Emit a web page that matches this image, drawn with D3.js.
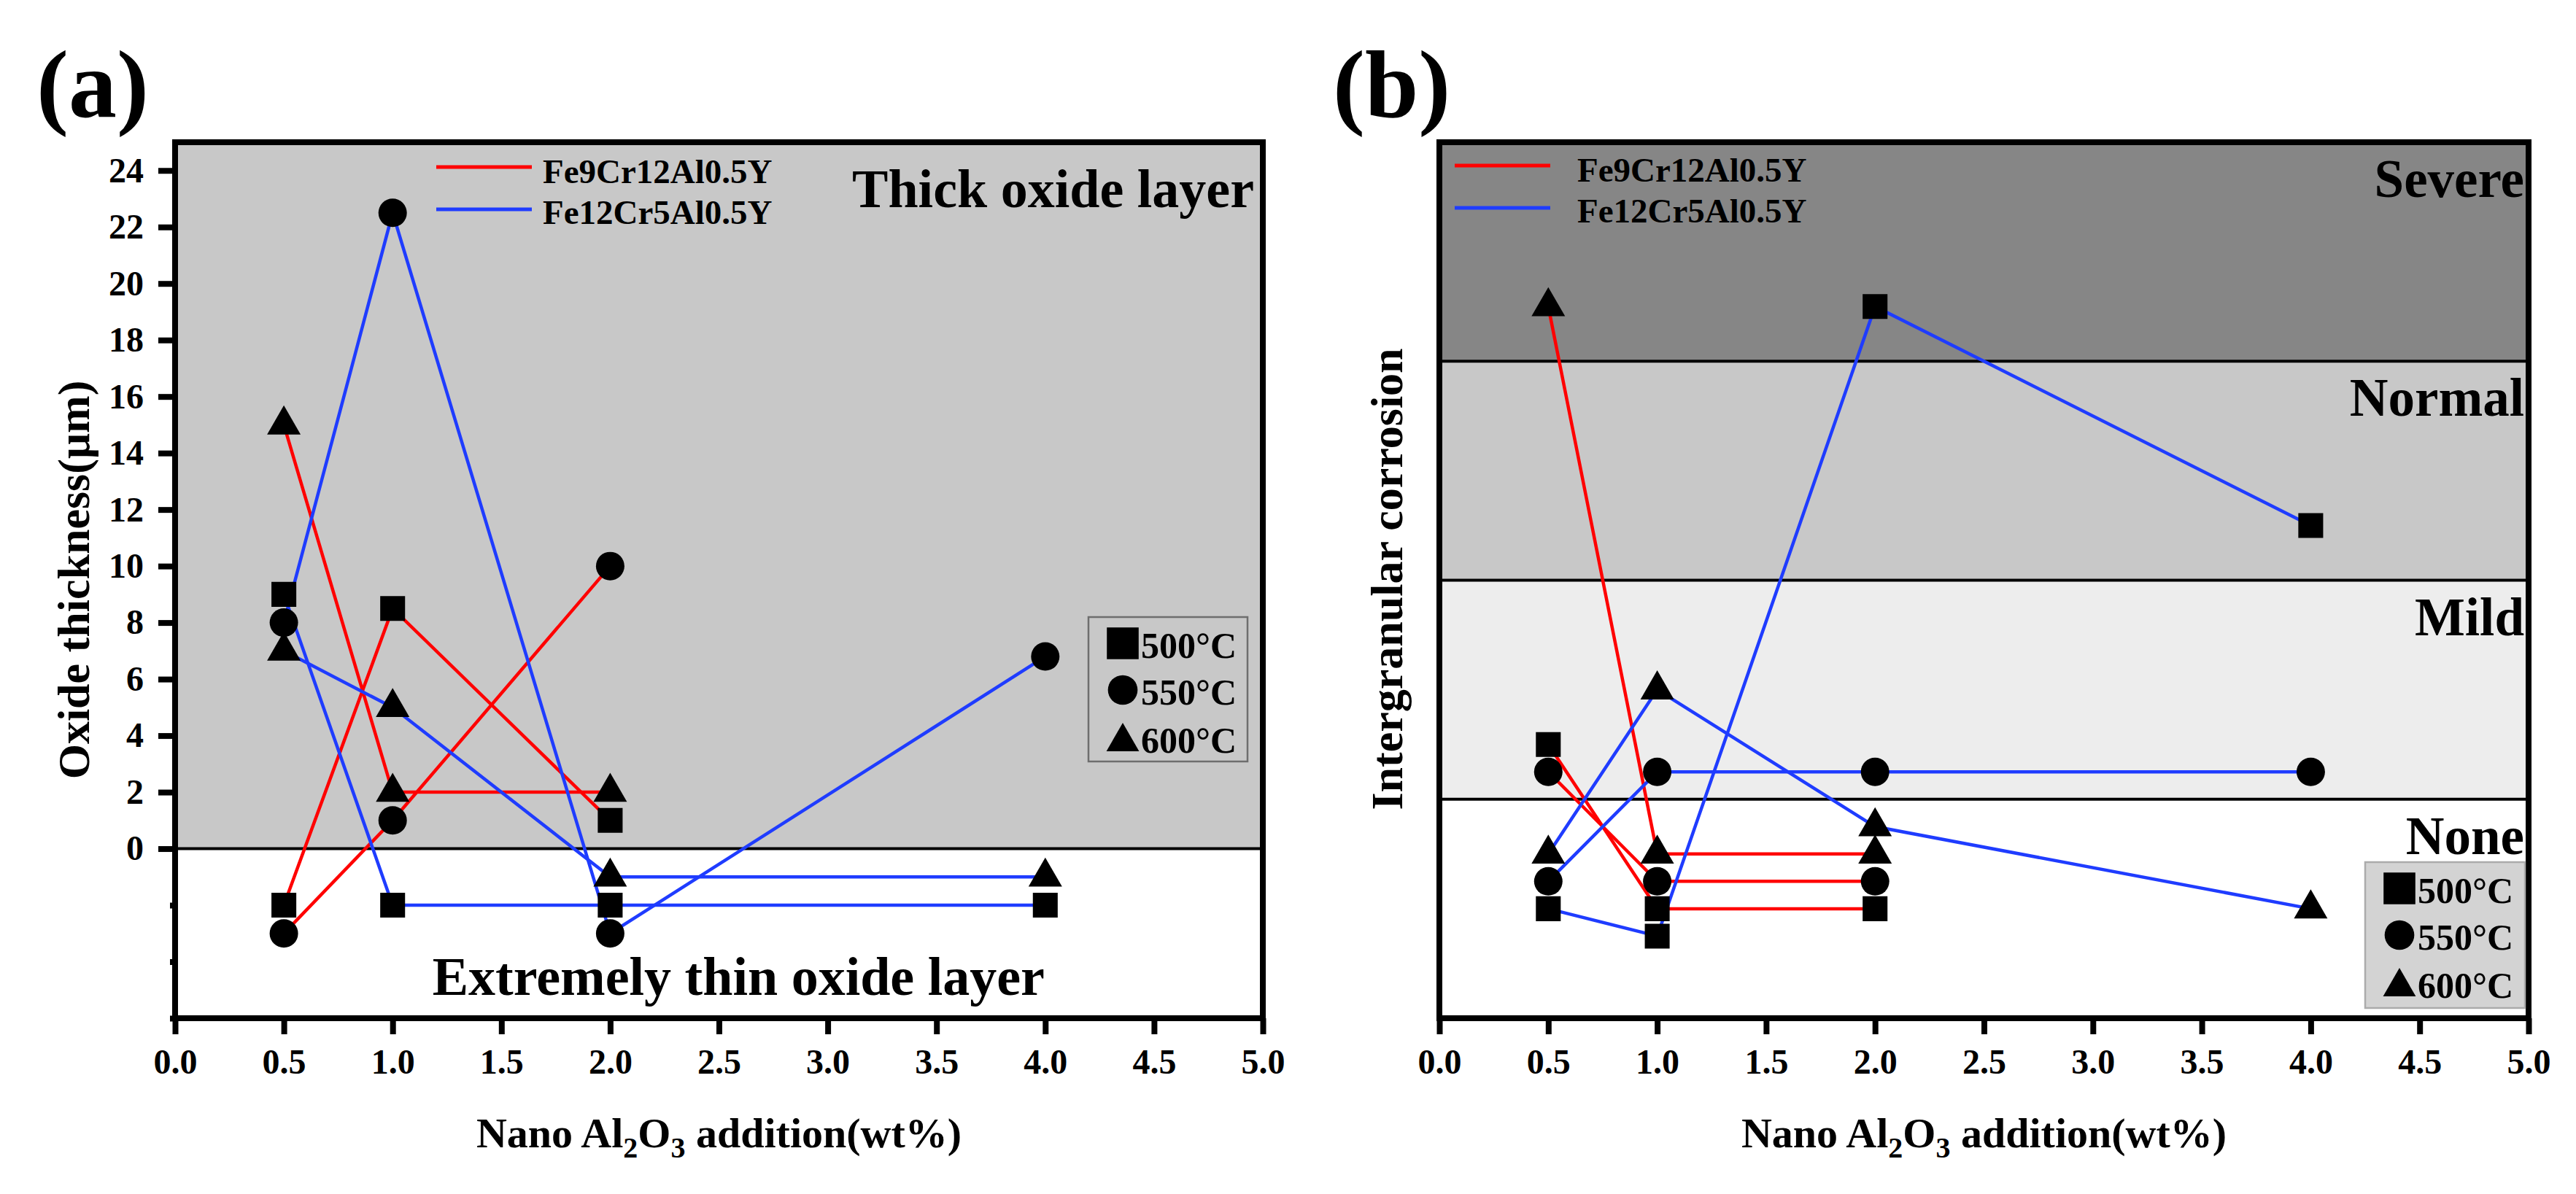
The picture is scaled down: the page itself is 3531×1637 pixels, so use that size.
<!DOCTYPE html>
<html lang="en">
    <head>
        <meta charset="UTF-8" />
        <title>Oxide thickness and intergranular corrosion</title>
        <style>
            body { margin: 0; background: #fff; }
        </style>
    </head>
    <body>
        <div id="main"></div>
        <script src="https://cdn.jsdelivr.net/npm/d3@7"></script>
        <script>
            const svgWidth = 3531
            const svgHeight = 1637
            const fontFamily = "Liberation Serif, Times New Roman, serif"
            const red = "#ff0000"
            const blue = "#1f3cff"

            // data
            const xTicks = [0, 0.5, 1, 1.5, 2, 2.5, 3, 3.5, 4, 4.5, 5]
            const yTicksA = [0, 2, 4, 6, 8, 10, 12, 14, 16, 18, 20, 22, 24]
            const yMinorA = [-2, -4, -6]
            const alloys = ["Fe9Cr12Al0.5Y", "Fe12Cr5Al0.5Y"]
            const temps = ["500°C", "550°C", "600°C"]
            const additionRed = [0.5, 1.0, 2.0]
            const additionBlue = [0.5, 1.0, 2.0, 4.0]

            // (a) oxide thickness, um
            const oxideRed500 = [-2, 8.5, 1]
            const oxideRed550 = [-3, 1, 10]
            const oxideRed600 = [15, 2, 2]
            const oxideBlue500 = [9, -2, -2, -2]
            const oxideBlue550 = [8, 22.5, -3, 6.8]
            const oxideBlue600 = [7, 5, -1, -1]

            // (b) intergranular corrosion level (0-32, four bands of 8)
            const bandNames = ["None", "Mild", "Normal", "Severe"]
            const bandEdges = [0, 8, 16, 24, 32]
            const bandColors = ["#ffffff", "#ededed", "#c8c8c8", "#868686"]
            const igcRed500 = [10, 4, 4]
            const igcRed550 = [9, 5, 5]
            const igcRed600 = [26, 6, 6]
            const igcBlue500 = [4, 3, 26, 18]
            const igcBlue550 = [5, 9, 9, 9]
            const igcBlue600 = [6, 12, 7, 4]

            const frameTop = 195
            const frameBottom = 1396
            const frameA = { left: 240, right: 1731 }
            const frameB = { left: 1973, right: 3466 }

            const symbols = [d3.symbolSquare, d3.symbolCircle, d3.symbolTriangle]
            const symbolSizes = [1160, 1195, 916]

            main()

            function main() {
                const svg = d3
                    .select("#main")
                    .append("svg")
                    .attr("width", svgWidth)
                    .attr("height", svgHeight)
                    .attr("font-family", fontFamily)
                    .attr("font-weight", "bold")

                drawPanelA(svg)
                drawPanelB(svg)
            }

            function drawPanelA(svg) {
                const x = d3.scaleLinear([0, 5], [frameA.left, frameA.right])
                const y = d3.scaleLinear([-6, 25], [frameBottom, frameTop])
                const g = svg.append("g")

                g.append("rect")
                    .attr("x", x(0))
                    .attr("y", y(25))
                    .attr("width", x(5) - x(0))
                    .attr("height", y(0) - y(25))
                    .attr("fill", "#c8c8c8")
                g.append("line")
                    .attr("x1", x(0))
                    .attr("x2", x(5))
                    .attr("y1", y(0))
                    .attr("y2", y(0))
                    .attr("stroke", "black")
                    .attr("stroke-width", 4)

                g.append("text")
                    .attr("x", x(5) - 12)
                    .attr("y", 284)
                    .attr("text-anchor", "end")
                    .attr("font-size", 74)
                    .text("Thick oxide layer")
                g.append("text")
                    .attr("x", x(2.59))
                    .attr("y", 1364)
                    .attr("text-anchor", "middle")
                    .attr("font-size", 74)
                    .text("Extremely thin oxide layer")

                const series = [
                    [additionRed, [oxideRed500, oxideRed550, oxideRed600], red],
                    [additionBlue, [oxideBlue500, oxideBlue550, oxideBlue600], blue],
                ]
                drawSeries(g, x, y, series)

                drawFrame(g, x, y, [-6, 25])
                drawXAxis(g, x, y(-6))

                const yAxis = d3
                    .axisLeft(y)
                    .tickValues(yTicksA)
                    .tickSize(23)
                    .tickPadding(20)
                g.append("g")
                    .attr("transform", `translate(${x(0)}, 0)`)
                    .call(yAxis)
                    .call(styleAxis)
                const yMinor = d3
                    .axisLeft(y)
                    .tickValues(yMinorA)
                    .tickSize(7)
                    .tickFormat("")
                g.append("g")
                    .attr("transform", `translate(${x(0)}, 0)`)
                    .call(yMinor)
                    .call(styleAxis)

                drawAlloyLegend(g, 598, 229, 744)
                drawTempLegend(g, [1492, 846, 218, 198], "#c8c8c8", "#6e6e6e")

                g.append("text")
                    .attr("transform", "translate(122, 795) rotate(-90)")
                    .attr("text-anchor", "middle")
                    .attr("font-size", 62)
                    .text("Oxide thickness(μm)")
                drawXTitle(g, x(2.5))
                g.append("text")
                    .attr("x", 50)
                    .attr("y", 160)
                    .attr("font-size", 132)
                    .text("(a)")
            }

            function drawPanelB(svg) {
                const x = d3.scaleLinear([0, 5], [frameB.left, frameB.right])
                const y = d3.scaleLinear([0, 32], [frameBottom, frameTop])
                const g = svg.append("g")

                const bands = bandNames.map((name, i) => ({
                    name,
                    lo: bandEdges[i],
                    hi: bandEdges[i + 1],
                    color: bandColors[i],
                }))
                g.selectAll("rect.band")
                    .data(bands)
                    .enter()
                    .append("rect")
                    .classed("band", true)
                    .attr("x", x(0))
                    .attr("y", (d) => y(d.hi))
                    .attr("width", x(5) - x(0))
                    .attr("height", (d) => y(d.lo) - y(d.hi))
                    .attr("fill", (d) => d.color)
                g.selectAll("line.band")
                    .data(bandEdges.slice(1, -1))
                    .enter()
                    .append("line")
                    .classed("band", true)
                    .attr("x1", x(0))
                    .attr("x2", x(5))
                    .attr("y1", (d) => y(d))
                    .attr("y2", (d) => y(d))
                    .attr("stroke", "black")
                    .attr("stroke-width", 4)
                g.selectAll("text.band")
                    .data(bands)
                    .enter()
                    .append("text")
                    .classed("band", true)
                    .attr("x", x(5) - 6)
                    .attr("y", (d) => y(d.hi) + 75)
                    .attr("text-anchor", "end")
                    .attr("font-size", 73)
                    .text((d) => d.name)

                const series = [
                    [additionRed, [igcRed500, igcRed550, igcRed600], red],
                    [additionBlue, [igcBlue500, igcBlue550, igcBlue600], blue],
                ]
                drawSeries(g, x, y, series)

                drawFrame(g, x, y, [0, 32])
                drawXAxis(g, x, y(0))

                drawAlloyLegend(g, 1994, 227, 2162)
                drawTempLegend(g, [3242, 1182, 219, 200], "#d3d3d3", "#ababab")

                g.append("text")
                    .attr("transform", "translate(1922, 794) rotate(-90)")
                    .attr("text-anchor", "middle")
                    .attr("font-size", 62)
                    .text("Intergranular corrosion")
                drawXTitle(g, x(2.5))
                g.append("text")
                    .attr("x", 1827)
                    .attr("y", 160)
                    .attr("font-size", 132)
                    .text("(b)")
            }

            function drawSeries(g, x, y, series) {
                const line = d3
                    .line()
                    .x((d) => x(d[0]))
                    .y((d) => y(d[1]))
                series.forEach(([xs, rows, color]) => {
                    rows.forEach((values) => {
                        g.append("path")
                            .datum(xs.map((v, i) => [v, values[i]]))
                            .attr("d", line)
                            .attr("fill", "none")
                            .attr("stroke", color)
                            .attr("stroke-width", 4.5)
                    })
                })
                series.forEach(([xs, rows]) => {
                    rows.forEach((values, t) => {
                        g.selectAll(null)
                            .data(xs.map((v, i) => [v, values[i]]))
                            .enter()
                            .append("path")
                            .attr(
                                "d",
                                d3.symbol(symbols[t], symbolSizes[t])
                            )
                            .attr(
                                "transform",
                                (d) => `translate(${x(d[0])}, ${y(d[1])})`
                            )
                            .attr("fill", "black")
                    })
                })
            }

            function drawFrame(g, x, y, yDomain) {
                g.append("rect")
                    .attr("x", x(0))
                    .attr("y", y(yDomain[1]))
                    .attr("width", x(5) - x(0))
                    .attr("height", y(yDomain[0]) - y(yDomain[1]))
                    .attr("fill", "none")
                    .attr("stroke", "black")
                    .attr("stroke-width", 8)
            }

            function drawXAxis(g, x, yPos) {
                const xAxis = d3
                    .axisBottom(x)
                    .tickValues(xTicks)
                    .tickFormat(d3.format(".1f"))
                    .tickSize(22)
                    .tickPadding(20)
                g.append("g")
                    .attr("transform", `translate(0, ${yPos})`)
                    .call(xAxis)
                    .call(styleAxis)
            }

            function styleAxis(axis) {
                axis.attr("font-family", fontFamily).attr("font-size", 48)
                axis.select(".domain").remove()
                axis.selectAll(".tick line")
                    .attr("stroke", "black")
                    .attr("stroke-width", 8)
                axis.selectAll(".tick text")
                    .attr("fill", "black")
                    .attr("font-weight", "bold")
            }

            function drawAlloyLegend(g, lineX, lineY, textX) {
                const colors = [red, blue]
                const rowGap = 58
                g.selectAll(null)
                    .data(alloys)
                    .enter()
                    .append("line")
                    .attr("x1", lineX)
                    .attr("x2", lineX + 131)
                    .attr("y1", (d, i) => lineY + i * rowGap)
                    .attr("y2", (d, i) => lineY + i * rowGap)
                    .attr("stroke", (d, i) => colors[i])
                    .attr("stroke-width", 5)
                g.selectAll(null)
                    .data(alloys)
                    .enter()
                    .append("text")
                    .attr("x", textX)
                    .attr("y", (d, i) => lineY + 22 + i * 56)
                    .attr("font-size", 47)
                    .text((d) => d)
            }

            function drawTempLegend(g, box, fill, stroke) {
                const [bx, by, bw, bh] = box
                g.append("rect")
                    .attr("x", bx)
                    .attr("y", by)
                    .attr("width", bw)
                    .attr("height", bh)
                    .attr("fill", fill)
                    .attr("stroke", stroke)
                    .attr("stroke-width", 2.5)
                const legendSizes = [1900, 1300, 870]
                const rowY = [36, 100, 166]
                g.selectAll(null)
                    .data(temps)
                    .enter()
                    .append("path")
                    .attr("d", (d, i) => d3.symbol(symbols[i], legendSizes[i])())
                    .attr(
                        "transform",
                        (d, i) => `translate(${bx + 47}, ${by + rowY[i] + (i === 2 ? 5 : 0)})`
                    )
                    .attr("fill", "black")
                g.selectAll(null)
                    .data(temps)
                    .enter()
                    .append("text")
                    .attr("x", bx + 72)
                    .attr("y", (d, i) => by + rowY[i] + 20)
                    .attr("font-size", 50)
                    .text((d) => d)
            }

            function drawXTitle(g, cx) {
                const t = g
                    .append("text")
                    .attr("x", cx)
                    .attr("y", 1573)
                    .attr("text-anchor", "middle")
                    .attr("font-size", 58)
                t.append("tspan").text("Nano Al")
                t.append("tspan").attr("font-size", 40).attr("dy", 14).text("2")
                t.append("tspan").attr("dy", -14).text("O")
                t.append("tspan").attr("font-size", 40).attr("dy", 14).text("3")
                t.append("tspan").attr("dy", -14).text(" addition(wt%)")
            }
        </script>
    </body>
</html>
